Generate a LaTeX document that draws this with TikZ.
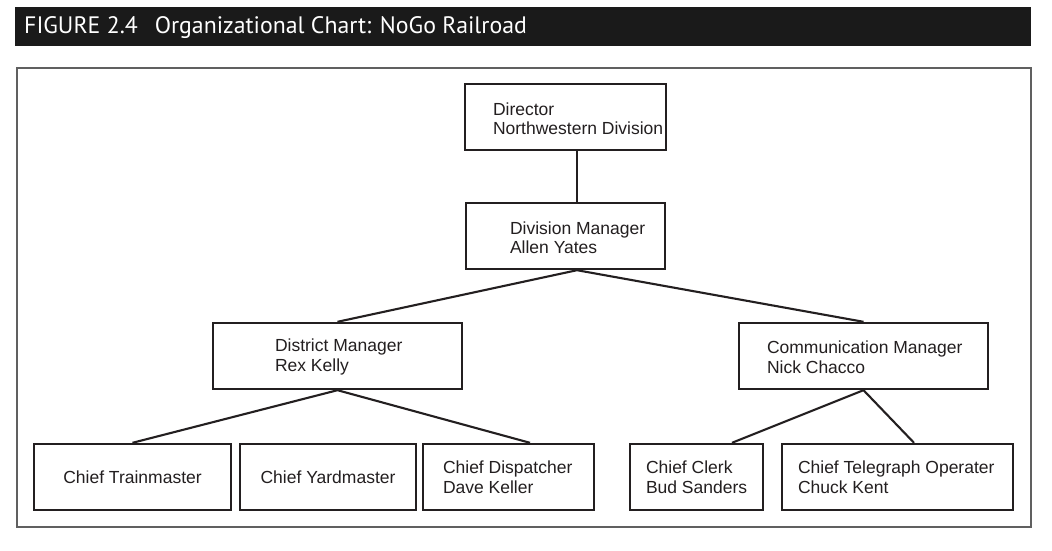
\documentclass[tikz,border=0pt]{standalone}
\usepackage{fontspec}
\setmainfont{Liberation Sans}
\newfontfamily\titlefont{PT Sans}
\definecolor{barblack}{HTML}{1A1A1A}
\definecolor{framegray}{HTML}{606060}
\definecolor{ink}{HTML}{231F20}
\begin{document}
\begin{tikzpicture}[x=1pt,y=-1pt,
  box/.style={draw=ink,line width=2.4pt,rectangle,inner sep=0pt,minimum height=66pt,
    text=ink,font=\fontsize{17.5}{19.5}\selectfont},
  lbl/.style={anchor=west,inner sep=0pt,align=left,text=ink,font=\fontsize{17.5}{19.5}\selectfont},
  link/.style={draw=ink,line width=2.1pt}]
\useasboundingbox[fill=white] (0,0) rectangle (1052,551);
% header bar
\fill[barblack] (15,7) rectangle (1031,46);
\node[anchor=base west,inner sep=0pt,text=white,font=\titlefont\fontsize{23.8}{28}\selectfont] (title) at (24,34)
  {FIGURE 2.4\hspace{17pt}Organizational Chart: NoGo Railroad};
% frame
\draw[framegray,line width=1.4pt] (17,68) rectangle (1031,527);
% boxes
\node[box,minimum width=201pt] (dir) at (565.5,117) {};
\node[lbl] (dirt) at ([xshift=29pt,yshift=-1.5pt]dir.west) {Director\\Northwestern Division};
\node[box,minimum width=199pt] (div) at (565.5,236) {};
\node[lbl] (divt) at ([xshift=45pt,yshift=-1.5pt]div.west) {Division Manager\\Allen Yates};
\node[box,minimum width=249pt] (dist) at (337.5,356) {};
\node[lbl] (distt) at ([xshift=63pt,yshift=-1pt]dist.west) {District Manager\\Rex Kelly};
\node[box,minimum width=249pt] (comm) at (863.5,356) {};
\node[lbl] (commt) at ([xshift=29pt,yshift=-1pt]comm.west) {Communication Manager\\Nick Chacco};
\node[box,minimum width=197pt] (train) at (132.5,477) {Chief Trainmaster};
\node[box,minimum width=176pt] (yard) at (328,477) {Chief Yardmaster};
\node[box,minimum width=171pt] (disp) at (508.5,477) {};
\node[lbl] (dispt) at ([xshift=21pt]disp.west) {Chief Dispatcher\\Dave Keller};
\node[box,minimum width=133pt] (clerk) at (696.5,477) {};
\node[lbl] (clerkt) at ([xshift=17pt]clerk.west) {Chief Clerk\\Bud Sanders};
\node[box,minimum width=231pt] (tele) at (897.5,477) {};
\node[lbl] (telet) at ([xshift=17pt]tele.west) {Chief Telegraph Operater\\Chuck Kent};
% connectors
\draw[link] ([xshift=11.5pt]dir.south) -- ([xshift=11.5pt]div.north);
\draw[link] (dist.north) -- ([xshift=11.5pt]div.south) -- (comm.north);
\draw[link] (train.north) -- (dist.south) -- ([xshift=21.5pt]disp.north);
\draw[link] ([xshift=35.5pt]clerk.north) -- (comm.south) -- ([xshift=16.5pt]tele.north);
\end{tikzpicture}
\end{document}
